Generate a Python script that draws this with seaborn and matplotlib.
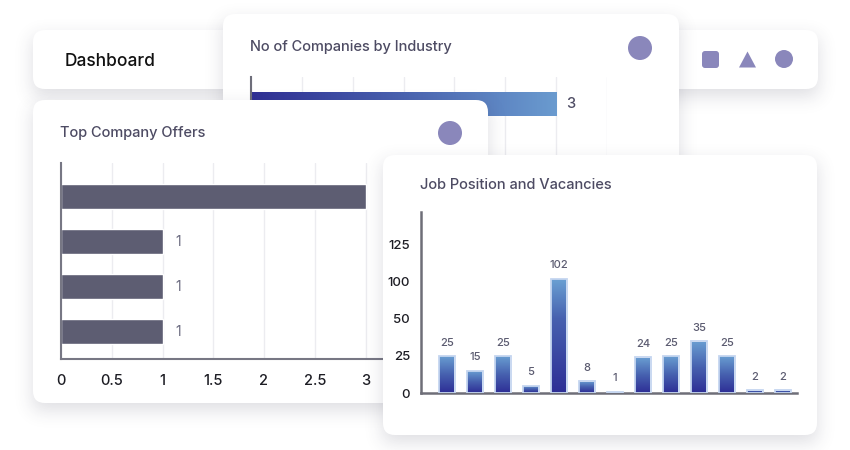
import math
import numpy as np
import pandas as pd
import matplotlib
matplotlib.use("Agg")
import matplotlib.pyplot as plt
from matplotlib.patches import FancyBboxPatch, Circle, Polygon
from matplotlib.colors import LinearSegmentedColormap
import seaborn as sns

# ---------------- data ----------------
industry_names = ["Industry A"]
industry_counts = [3]

offer_companies = ["Company A", "Company B", "Company C", "Company D"]
offer_counts = [3, 1, 1, 1]
offer_ticks = [0, 0.5, 1, 1.5, 2, 2.5, 3]

job_positions = [f"Position {i}" for i in range(1, 14)]
job_vacancies = [25, 15, 25, 5, 102, 8, 1, 24, 25, 35, 25, 2, 2]
job_ticks = [0, 25, 50, 100, 125]

# ---------------- style ----------------
sns.set_theme(style="white")
plt.rcParams["font.family"] = ["Inter", "DejaVu Sans"]

W, H = 850, 450
fig = plt.figure(figsize=(8.5, 4.5), dpi=100)
fig.patch.set_facecolor("white")

TITLE_C = "#4d4b63"
ICON_C = "#8a87bb"
WT = "medium"
SQ2 = math.sqrt(2)
erf = np.vectorize(math.erf)
XS = np.arange(W) + 0.5
YS = np.arange(H) + 0.5


def layer(z):
    ax = fig.add_axes([0, 0, 1, 1])
    ax.set_xlim(0, W)
    ax.set_ylim(H, 0)
    ax.axis("off")
    ax.patch.set_alpha(0)
    ax.set_zorder(z)
    return ax


def card(ax, x0, y0, x1, y1, sigma=9, dy=7, alpha=0.17, r=12):
    fx = 0.5 * (erf((XS - x0) / (sigma * SQ2)) - erf((XS - x1) / (sigma * SQ2)))
    fy = 0.5 * (erf((YS - y0 - dy) / (sigma * SQ2)) - erf((YS - y1 - dy) / (sigma * SQ2)))
    img = np.zeros((H, W, 4))
    img[..., 0] = 0.22
    img[..., 1] = 0.22
    img[..., 2] = 0.32
    img[..., 3] = alpha * np.outer(fy, fx)
    ax.imshow(img, extent=(0, W, H, 0), origin="upper", interpolation="bilinear",
              aspect="auto", zorder=0)
    ax.add_patch(FancyBboxPatch((x0, y0), x1 - x0, y1 - y0,
                                boxstyle=f"round,pad=0,rounding_size={r}",
                                facecolor="white", edgecolor="none", zorder=1))
    ax.set_xlim(0, W)
    ax.set_ylim(H, 0)


def chart_axes(x0, y0, x1, y1, z):
    ax = fig.add_axes([x0 / W, 1 - y1 / H, (x1 - x0) / W, (y1 - y0) / H])
    ax.set_zorder(z)
    ax.set_facecolor("none")
    return ax


# ---------------- layer 0 : dashboard strip ----------------
L0 = layer(0)
card(L0, 33, 30, 818, 89)
L0.text(65, 62, "Dashboard", fontsize=12.5, color="#111111", va="center",
        ha="left", fontweight=WT, zorder=3)
L0.add_patch(FancyBboxPatch((702, 51), 17, 17, boxstyle="round,pad=0,rounding_size=3",
                            facecolor=ICON_C, edgecolor="none", zorder=3))
L0.add_patch(Polygon([[739, 67.5], [756, 67.5], [747.5, 51.5]], closed=True,
                     facecolor=ICON_C, edgecolor="none", zorder=3))
L0.add_patch(Circle((784, 59), 9, facecolor=ICON_C, edgecolor="none", zorder=3))

# ---------------- layer 1 : industry card ----------------
L1 = layer(1)
card(L1, 223, 14, 679, 320)
L1.text(250, 47, "No of Companies by Industry", fontsize=10.5, color=TITLE_C,
        va="center", ha="left", fontweight=WT, zorder=3)
L1.add_patch(Circle((640, 48), 12, facecolor=ICON_C, edgecolor="none", zorder=3))

A1 = chart_axes(251, 77, 607, 250, 2)
df1 = pd.DataFrame({"industry": industry_names, "count": industry_counts})
sns.barplot(data=df1, x="count", y="industry", orient="h", ax=A1, width=0.8,
            color="#5d5d72", saturation=1)
cmap_h = LinearSegmentedColormap.from_list("h", ["#2f2f94", "#4a63b0", "#6a9bcf"])
for p in list(A1.patches):
    x, y, w, h = p.get_x(), p.get_y(), p.get_width(), p.get_height()
    A1.imshow(np.linspace(0, 1, 256).reshape(1, -1), cmap=cmap_h, aspect="auto",
              extent=[x, x + w, y + h, y], clip_path=p, zorder=2, interpolation="bilinear")
    p.set_facecolor("none")
    p.set_edgecolor("none")
    A1.text(x + w + 0.1, y + h / 2, f"{w:g}", fontsize=10.5, color=TITLE_C,
            va="center", ha="left", fontweight=WT)
A1.set_xlim(0, 3.5)
A1.set_ylim(4.87, -0.9)
A1.set_xticks(np.arange(0, 3.51, 0.5))
A1.set_xticklabels([])
A1.set_yticks([])
A1.set_xlabel("")
A1.set_ylabel("")
A1.grid(axis="x", color="#ececf0", lw=1)
A1.set_axisbelow(True)
for s in ["top", "right", "bottom"]:
    A1.spines[s].set_visible(False)
A1.spines["left"].set_color("#6e6e7a")
A1.spines["left"].set_linewidth(1.5)
A1.tick_params(length=0)

# ---------------- layer 3 : top company offers ----------------
L2 = layer(3)
card(L2, 33, 100, 488, 403)
L2.text(60, 133, "Top Company Offers", fontsize=10.5, color=TITLE_C,
        va="center", ha="left", fontweight=WT, zorder=3)
L2.add_patch(Circle((450, 133), 12, facecolor=ICON_C, edgecolor="none", zorder=3))

A2 = chart_axes(61, 163, 416.25, 359, 4)
df2 = pd.DataFrame({"company": offer_companies, "offers": offer_counts})
sns.barplot(data=df2, x="offers", y="company", orient="h", ax=A2, width=0.556,
            color="#5d5d72", saturation=1)
for p in A2.patches:
    w = p.get_width()
    if w < max(offer_counts):
        A2.text(w + 0.13, p.get_y() + p.get_height() / 2, f"{w:g}", fontsize=10,
                color="#6b6b80", va="center", ha="left")
A2.set_xlim(0, 3.5)
A2.set_ylim(3.61, -0.744)
A2.set_xticks(offer_ticks)
A2.set_xticklabels([f"{t:g}" for t in offer_ticks], fontweight=WT)
A2.set_yticks([])
A2.set_xlabel("")
A2.set_ylabel("")
A2.grid(axis="x", color="#ececf0", lw=1)
A2.set_axisbelow(True)
for s in ["top", "right"]:
    A2.spines[s].set_visible(False)
for s in ["left", "bottom"]:
    A2.spines[s].set_color("#777784")
    A2.spines[s].set_linewidth(1.5)
A2.tick_params(axis="x", length=0, pad=11, labelsize=10.5, labelcolor="#1d1d24")

# ---------------- layer 5 : job positions ----------------
L3 = layer(5)
card(L3, 383, 155, 817, 435)
L3.text(420, 185, "Job Position and Vacancies", fontsize=10.5, color=TITLE_C,
        va="center", ha="left", fontweight=WT, zorder=3)

A3 = chart_axes(421, 212, 797, 393, 6)
df3 = pd.DataFrame({"position": job_positions, "vacancies": job_vacancies})
sns.barplot(data=df3, x="position", y="vacancies", ax=A3, width=0.54,
            color="#4a63b0", saturation=1)

brk_v = np.array([-1000.0, 0, 25, 50, 100, 125, 1000])
brk_p = np.array([-40.0, 0, 1, 2, 3, 4, 39.0])


def fwd(v):
    return np.interp(v, brk_v, brk_p)


def inv(p):
    return np.interp(p, brk_p, brk_v)


A3.set_yscale("function", functions=(fwd, inv))
cmap_v = LinearSegmentedColormap.from_list("v", ["#2e2f96", "#4762b0", "#6a9fd2"])
for p in list(A3.patches):
    x, w, h = p.get_x(), p.get_width(), p.get_height()
    A3.imshow(np.linspace(0, 1, 128).reshape(-1, 1), cmap=cmap_v, aspect="auto",
              origin="lower", extent=[x, x + w, 0, h], clip_path=p, zorder=2,
              interpolation="bilinear")
    p.set_facecolor("none")
    p.set_edgecolor("#c5d6f0")
    p.set_linewidth(1.3)
    p.set_zorder(3)
    A3.annotate(f"{h:g}", (x + w / 2, h), xytext=(0, 6), textcoords="offset points",
                ha="center", va="bottom", fontsize=8, color="#5b5b70", fontweight=WT)
A3.set_xlim(-0.93, 12.5)
A3.set_ylim(0, 147)
A3.set_yticks(job_ticks)
A3.set_yticklabels([str(t) for t in job_ticks], fontweight=WT)
A3.set_xticks([])
A3.set_xlabel("")
A3.set_ylabel("")
A3.grid(False)
for s in ["top", "right"]:
    A3.spines[s].set_visible(False)
for s in ["left", "bottom"]:
    A3.spines[s].set_color("#6e6e78")
    A3.spines[s].set_linewidth(1.8)
A3.tick_params(axis="y", length=0, pad=8, labelsize=9.5, labelcolor="#1d1d24")

fig.savefig("out.png", dpi=100, facecolor="white")
